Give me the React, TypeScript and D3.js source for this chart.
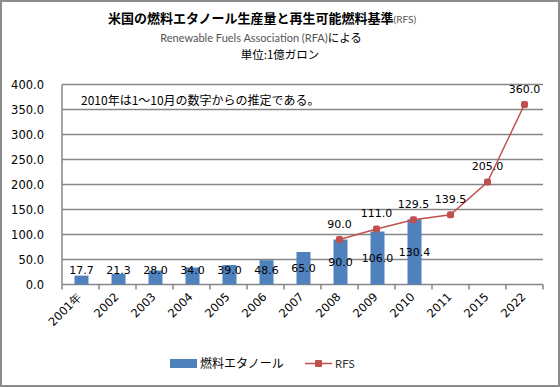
import React from "react";
import * as d3 from "d3";

const categories = ["2001年", "2002", "2003", "2004", "2005", "2006", "2007", "2008", "2009", "2010", "2011", "2015", "2022"];
const ethanolValues: (number | null)[] = [17.7, 21.3, 28.0, 34.0, 39.0, 48.6, 65.0, 90.0, 106.0, 130.4, null, null, null];
const rfsValues: (number | null)[] = [null, null, null, null, null, null, null, 90.0, 111.0, 129.5, 139.5, 205.0, 360.0];
const yTicks = [0, 50, 100, 150, 200, 250, 300, 350, 400];

const W = 560, H = 387;
const left = 62, right = 543, top = 84.5, bottom = 284.5;
const BLUE = "#4F81BD", RED = "#C0504D", GRID = "#868686";
const NUMFONT = "'DejaVu Sans', sans-serif";
const JPFONT = "'Noto Sans CJK JP', sans-serif";

export default function App() {
  const x = d3.scaleBand<string>().domain(categories).range([left, right]).padding(0);
  const y = d3.scaleLinear().domain([0, 400]).range([bottom, top]);
  const bw = 14;
  const cx = (c: string) => (x(c) as number) + x.bandwidth() / 2;

  const rfsPts = categories
    .map((c, i) => ({ c, v: rfsValues[i] }))
    .filter((d) => d.v !== null) as { c: string; v: number }[];
  const line = d3.line<{ c: string; v: number }>().x((d) => cx(d.c)).y((d) => y(d.v));

  return (
    <svg width={W} height={H} style={{ position: "absolute", left: 0, top: 0 }}>
      <rect x={1} y={1} width={W - 2} height={H - 2} fill="#fff" stroke="#8c8c8c" strokeWidth={2} />
      <text x={262} y={23} textAnchor="middle" fill="#000">
        <tspan fontFamily={JPFONT} fontWeight="bold" fontSize={13}>米国の燃料エタノール生産量と再生可能燃料基準</tspan>
        <tspan fontFamily="Lato, sans-serif" fontSize={10} fill="#555">(RFS)</tspan>
      </text>
      <text x={261} y={42} textAnchor="middle">
        <tspan fontFamily="Lato, sans-serif" fontSize={11} fill="#555">Renewable Fuels Association (RFA)</tspan>
        <tspan fontFamily={JPFONT} fontSize={11.5} fill="#000">による</tspan>
      </text>
      <text x={280} y={59} textAnchor="middle" fontFamily={JPFONT} fontSize={11.5} fill="#000">単位:1億ガロン</text>

      {yTicks.map((t) => (
        <g key={t}>
          {t > 0 && <line x1={left} x2={right} y1={y(t)} y2={y(t)} stroke={GRID} strokeWidth={1.5} />}
          <text x={44} y={y(t) + 4} textAnchor="end" fontFamily={NUMFONT} fontSize={11.5} fill="#000">
            {t.toFixed(1)}
          </text>
        </g>
      ))}
      <line x1={left} x2={left} y1={top} y2={bottom} stroke={GRID} strokeWidth={1.5} />
      <line x1={left} x2={right} y1={bottom} y2={bottom} stroke={GRID} strokeWidth={1.5} />
      {categories.map((c) => (
        <line key={"t" + c} x1={x(c) as number} x2={x(c) as number} y1={bottom} y2={bottom + 5} stroke={GRID} strokeWidth={1.5} />
      ))}
      <line x1={right} x2={right} y1={bottom} y2={bottom + 5} stroke={GRID} strokeWidth={1.5} />

      {categories.map((c, i) => {
        const v = ethanolValues[i];
        if (v === null) return null;
        const yt = y(v);
        const ly = Math.min((yt + bottom) / 2, 270);
        return (
          <g key={"b" + c}>
            <rect x={cx(c) - bw / 2 + 1} y={yt} width={bw} height={bottom - yt} fill={BLUE} />
            <text x={cx(c) + 1} y={ly + 4} textAnchor="middle" fontFamily={NUMFONT} fontSize={11} fill="#000">
              {v.toFixed(1)}
            </text>
          </g>
        );
      })}

      <path d={line(rfsPts) as string} fill="none" stroke={RED} strokeWidth={1.5} />
      {rfsPts.map((d) => (
        <g key={"r" + d.c}>
          <rect x={cx(d.c) - 3.5} y={y(d.v) - 3.5} width={7} height={7} rx={2} fill={RED} />
          <text x={cx(d.c)} y={y(d.v) - 12} textAnchor="middle" fontFamily={NUMFONT} fontSize={11} fill="#000">
            {d.v.toFixed(1)}
          </text>
        </g>
      ))}

      <text x={81} y={105} fontFamily={JPFONT} fontSize={12} fill="#000">2010年は1〜10月の数字からの推定である。</text>

      {categories.map((c) => (
        <text
          key={"xl" + c}
          transform={`translate(${cx(c) + 2},${bottom + 13}) rotate(-45)`}
          textAnchor="end"
          fontFamily={NUMFONT}
          fontSize={11.5}
          fill="#000"
        >
          {c}
        </text>
      ))}

      <rect x={170} y={359} width={27} height={9} fill={BLUE} />
      <text x={200} y={368} fontFamily={JPFONT} fontSize={12} fill="#000">燃料エタノール</text>
      <line x1={305} x2={332} y1={363.5} y2={363.5} stroke={RED} strokeWidth={1.5} />
      <rect x={315} y={360} width={7} height={7} rx={1} fill={RED} />
      <text x={335} y={368} fontFamily="Lato, sans-serif" fontSize={11.5} fill="#333">RFS</text>
    </svg>
  );
}
